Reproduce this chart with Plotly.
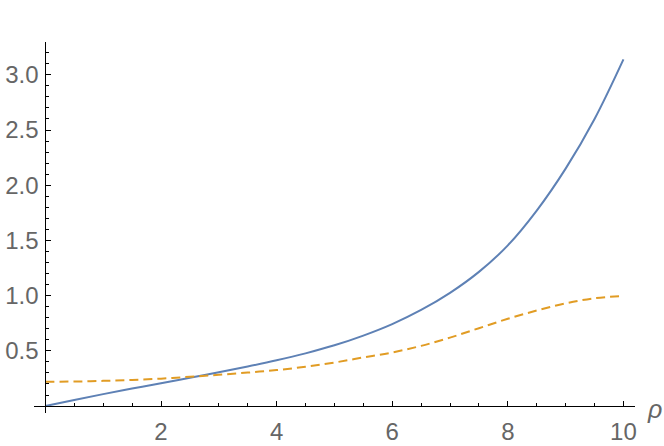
import plotly.graph_objects as go

rho = [0, 0.5, 1, 1.5, 2, 2.5, 3, 3.5, 4, 4.5, 5, 5.5, 6, 6.5, 7, 7.5, 8, 8.5, 9, 9.5, 10]
blue_vals = [0, 0.055, 0.108, 0.158, 0.207, 0.256, 0.306, 0.358, 0.414, 0.477, 0.55, 0.638,
             0.742, 0.87, 1.025, 1.215, 1.455, 1.77, 2.15, 2.6, 3.14]
orange_vals = [0.22, 0.222, 0.228, 0.237, 0.248, 0.265, 0.283, 0.303, 0.326, 0.356, 0.394,
               0.44, 0.485, 0.545, 0.62, 0.705, 0.79, 0.865, 0.93, 0.976, 0.998]

x_tickvals = [2, 4, 6, 8, 10]
x_ticktext = ["2", "4", "6", "8", "10"]
y_tickvals = [0.5, 1.0, 1.5, 2.0, 2.5, 3.0]
y_ticktext = ["0.5", "1.0", "1.5", "2.0", "2.5", "3.0"]

fig = go.Figure()
fig.add_trace(go.Scatter(x=rho, y=blue_vals, mode="lines",
                         line=dict(color="#5E81B5", width=2, shape="spline", smoothing=1.0)))
fig.add_trace(go.Scatter(x=rho, y=orange_vals, mode="lines",
                         line=dict(color="#E19C24", width=2, dash="9px,5px", shape="spline", smoothing=1.0)))

tickfont = dict(family="Liberation Sans, Arial, sans-serif", size=24, color="#666666")

fig.update_layout(
    width=664, height=446,
    margin=dict(l=34, r=29, t=42, b=33),
    paper_bgcolor="white", plot_bgcolor="white",
    showlegend=False,
    xaxis=dict(range=[-0.197, 10.2], anchor="free", position=0.0189, automargin=False,
               showgrid=False, zeroline=False, showline=True, linecolor="black", linewidth=1,
               tickmode="array", tickvals=x_tickvals, ticktext=x_ticktext,
               ticks="inside", ticklen=5, tickcolor="black", tickwidth=1,
               minor=dict(ticks="inside", ticklen=3, dtick=0.5, tick0=0, tickcolor="black", showgrid=False),
               tickfont=tickfont, ticklabelstandoff=4),
    yaxis=dict(range=[-0.063, 3.297], anchor="free", position=0.019, automargin=False,
               showgrid=False, zeroline=False, showline=True, linecolor="black", linewidth=1,
               tickmode="array", tickvals=y_tickvals, ticktext=y_ticktext,
               ticks="inside", ticklen=5, tickcolor="black", tickwidth=1,
               minor=dict(ticks="inside", ticklen=3, dtick=0.1, tick0=0, tickcolor="black", showgrid=False),
               tickfont=tickfont, ticklabelstandoff=2),
    annotations=[dict(text="<i>ρ</i>", xref="paper", x=1.0, xanchor="left", xshift=10,
                      yref="y", y=0, yanchor="middle", yshift=-3, showarrow=False,
                      font=dict(family="Liberation Sans, Arial, sans-serif", size=25, color="#666666"))],
)

fig.write_html("out.html", config={"displayModeBar": False},
               post_script="document.body.style.margin='0px';document.body.style.overflow='hidden';")
